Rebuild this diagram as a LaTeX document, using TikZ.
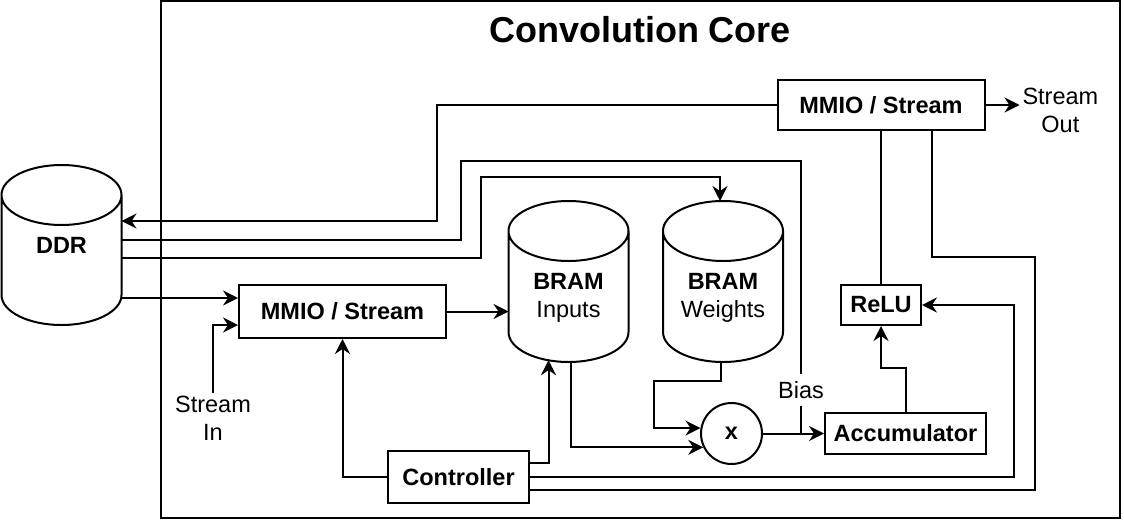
\documentclass[tikz,border=0pt]{standalone}
\usepackage{fontspec}
\setmainfont{Liberation Sans}
\usetikzlibrary{arrows.meta, positioning, shapes.geometric, calc}

% first line of a drum label sits on the drum centre
\newcommand{\drumtext}[1]{\raisebox{0pt}[8.4pt][0pt]{\begin{tabular}[t]{@{}c@{}}#1\end{tabular}}}

\begin{document}
\begin{tikzpicture}[
  x=0.5pt, y=-0.5pt,
  font=\fontsize{11.75}{14}\selectfont,
  >={Stealth[length=7.5pt, width=7.5pt, inset=2.5pt]},
  line width=1pt,
  block/.style={draw, align=center, font=\fontsize{11.75}{14}\selectfont\bfseries},
  store/.style={minimum width=59pt, minimum height=79.5pt, inner sep=0pt,
    append after command={\pgfextra{\let\drumnode\tikzlastnode
      \draw ([yshift=-15pt]\drumnode.north west) -- ([yshift=15pt]\drumnode.south west)
        arc[start angle=180, end angle=360, x radius=30pt, y radius=15pt]
        -- ([yshift=-15pt]\drumnode.north east)
        arc[start angle=0, end angle=360, x radius=30pt, y radius=15pt];}}},
  op/.style={draw, circle, minimum size=30.5pt, inner sep=0pt, font=\fontsize{11.75}{14}\selectfont\bfseries},
  lbl/.style={align=center, inner sep=1pt},
  frame/.style={draw, minimum width=479.5pt, minimum height=258.5pt},
  arrow/.style={->},
  wire/.style={-}
]
\useasboundingbox (0,0) rectangle (1124,520);

\node[frame] (core) at (640.5,259.5) {};
\node[font=\fontsize{18}{22}\selectfont\bfseries] (title) at (640,30) {Convolution Core};

\node[store, minimum height=79pt] (ddr) at (61.5,245) {\drumtext{\textbf{DDR}}};
\node[block, minimum width=103.5pt, minimum height=26.5pt] (mmioIn) at (342.5,311.5) {MMIO / Stream};
\node[store] (inputs) at (568.5,281.5) {\drumtext{\textbf{BRAM}\\Inputs}};
\node[store, right=17.25pt of inputs] (weights) {\drumtext{\textbf{BRAM}\\Weights}};
\node[block, minimum width=70.5pt, minimum height=26pt] (ctrl) at (458.5,477) {Controller};
\node[op] (mult) at (731.5,433.5) {x};
\node[block, right=30.5pt of mult, minimum width=80.5pt, minimum height=20.5pt] (acc) {Accumulator};
\node[block, minimum width=40pt, minimum height=20pt] (relu) at (881,305) {ReLU};
\node[block, above=76.5pt of relu, minimum width=103.5pt, minimum height=25pt] (mmioOut) {MMIO / Stream};
\node[lbl, right=17pt of mmioOut, yshift=-2.5pt] (streamOut) {Stream\\Out};
\node[lbl] (streamIn) at (213,418) {Stream\\In};
\node[lbl, inner sep=3pt] (bias) at (801,390) {Bias};

% DDR links
\draw[arrow] (mmioOut.west) -| (437,221) -- (ddr.east |- 437,221);
\draw[wire] (ddr.east |- 0,240) -| (461,161) -| (bias.north);
\draw[wire] (bias.south) -- (bias.south |- mult.east);
\draw[arrow] (ddr.east |- 0,258) -| (481,177) -| ([xshift=-1.5pt]weights.north);
\draw[arrow] (ddr.east |- 0,298) -- (mmioIn.west |- 0,298);
\draw[arrow] (streamIn.north) |- ([yshift=-6.75pt]mmioIn.west);

% datapath
\draw[arrow] (mmioIn.east) -- (mmioIn.east -| inputs.west);
\draw[arrow] ([xshift=1pt]inputs.south) |- (mult.206);
\draw[arrow] ([xshift=-1pt]weights.south) |- (654,381) |- (mult.170);
\draw[arrow] (mult) -- (acc);
\draw[arrow] (acc.north) -- ++(0,-44) -| (relu.south);
\draw[wire] (relu.north) -- (relu.north |- mmioOut.south);
\draw[arrow] (mmioOut) -- (streamOut.west |- mmioOut.east);

% control
\draw[arrow] ([yshift=7.25pt]ctrl.east) -| ([xshift=-10pt, yshift=0.9pt]inputs.south);
\draw[arrow] (ctrl.west) -| (mmioIn.south);
\draw[arrow] (ctrl.east) -| (1014,395) |- (relu.east);
\draw[wire] ([yshift=-6.25pt]ctrl.east) -| (1035,257) -| ([xshift=25.25pt]mmioOut.south);
\end{tikzpicture}
\end{document}
